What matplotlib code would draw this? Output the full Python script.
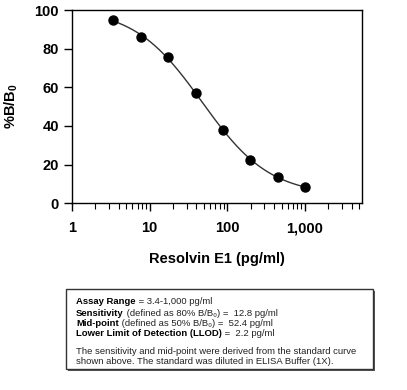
import numpy as np
import matplotlib
matplotlib.use("Agg")
import matplotlib.pyplot as plt
from matplotlib.patches import Rectangle

plt.rcParams['font.family'] = ['Liberation Sans', 'DejaVu Sans']
plt.rcParams['mathtext.fontset'] = 'custom'
plt.rcParams['mathtext.rm'] = 'Liberation Sans'
plt.rcParams['mathtext.bf'] = 'Liberation Sans:bold'

# standard curve points
conc = [3.4, 7.7, 17.3, 39.0, 87.8, 197.5, 444.4, 1000.0]
pct_b = [95.0, 86.0, 75.5, 57.0, 38.0, 22.5, 13.5, 8.5]
xticks = [1, 10, 100, 1000]
xticklabels = ["1", "10", "100", "1,000"]
yticks = [0, 20, 40, 60, 80, 100]

box_lines = [
    ("Assay Range", " = 3.4-1,000 pg/ml"),
    ("Sensitivity", " (defined as 80% B/B\u2080) =  12.8 pg/ml"),
    ("Mid-point", " (defined as 50% B/B\u2080) =  52.4 pg/ml"),
    ("Lower Limit of Detection (LLOD)", " =  2.2 pg/ml"),
]
box_note = ["The sensitivity and mid-point were derived from the standard curve",
            "shown above. The standard was diluted in ELISA Buffer (1X)."]

# 4-parameter logistic fit (grid over slope/center, linear solve for top/bottom)
x = np.array(conc)
y = np.array(pct_b)
best = None
for b in np.linspace(0.6, 1.8, 121):
    for c in np.exp(np.linspace(np.log(10), np.log(200), 200)):
        g = 1.0 / (1.0 + (x / c) ** b)
        A = np.column_stack([g, 1 - g])
        coef, *_ = np.linalg.lstsq(A, y, rcond=None)
        err = np.sum((A @ coef - y) ** 2)
        if best is None or err < best[0]:
            best = (err, b, c, coef)
_, b, c, (top, bot) = best
xs = np.logspace(np.log10(conc[0]), np.log10(conc[-1]), 300)
ys = bot + (top - bot) / (1 + (xs / c) ** b)

fig = plt.figure(figsize=(4.07, 3.90), dpi=100)
ax = fig.add_axes([0.177, 0.479, 0.712, 0.495])

ax.plot(xs, ys, color='#333333', lw=1.0)
ax.plot(conc, pct_b, 'o', color='black', ms=6.5)

ax.set_xscale('log')
ax.set_xlim(1, 5400)
ax.set_ylim(0, 100)
ax.set_xticks(xticks)
ax.set_xticklabels(xticklabels)
ax.set_yticks(yticks)
ax.tick_params(axis='both', which='major', direction='out', length=6, width=1, labelsize=10.5)
ax.tick_params(axis='x', which='major', pad=7)
ax.tick_params(axis='x', which='minor', direction='out', length=4, width=0.8)
ax.tick_params(axis='y', which='minor', left=False)
for lab in ax.get_xticklabels() + ax.get_yticklabels():
    lab.set_fontweight('bold')
for s in ax.spines.values():
    s.set_linewidth(1.0)

ax.set_xlabel("Resolvin E1 (pg/ml)", fontsize=10.5, fontweight='bold', labelpad=12)
ax.set_ylabel(r"%B/B$_\mathbf{0}$", fontsize=10.5, fontweight='bold', labelpad=10)

# info box with shadow
W, H = 407.0, 390.0
bx0, bx1, by_top, by_bot = 66, 373, 289, 369
fig.patches.append(Rectangle((bx0 / W + 2 / W, 1 - by_bot / H - 2 / H), (bx1 - bx0) / W, (by_bot - by_top) / H,
                             transform=fig.transFigure, facecolor='#555555', edgecolor='none', zorder=1))
fig.patches.append(Rectangle((bx0 / W, 1 - by_bot / H), (bx1 - bx0) / W, (by_bot - by_top) / H,
                             transform=fig.transFigure, facecolor='white', edgecolor='#333333', lw=1.0, zorder=2))

fig.canvas.draw()
renderer = fig.canvas.get_renderer()
line_y = [302, 313, 323.5, 334]
for (bold, rest), yy in zip(box_lines, line_y):
    t = fig.text(76 / W, 1 - yy / H, bold, fontsize=6.8, fontweight='bold', va='center', zorder=3)
    bb = t.get_window_extent(renderer)
    fig.text(bb.x1 / fig.bbox.width, 1 - yy / H, rest, fontsize=6.8, va='center', color='#222222', zorder=3)
for txt, yy in zip(box_note, [351, 362]):
    fig.text(76 / W, 1 - yy / H, txt, fontsize=6.8, va='center', color='#222222', zorder=3)

fig.savefig("out.png", dpi=100)
